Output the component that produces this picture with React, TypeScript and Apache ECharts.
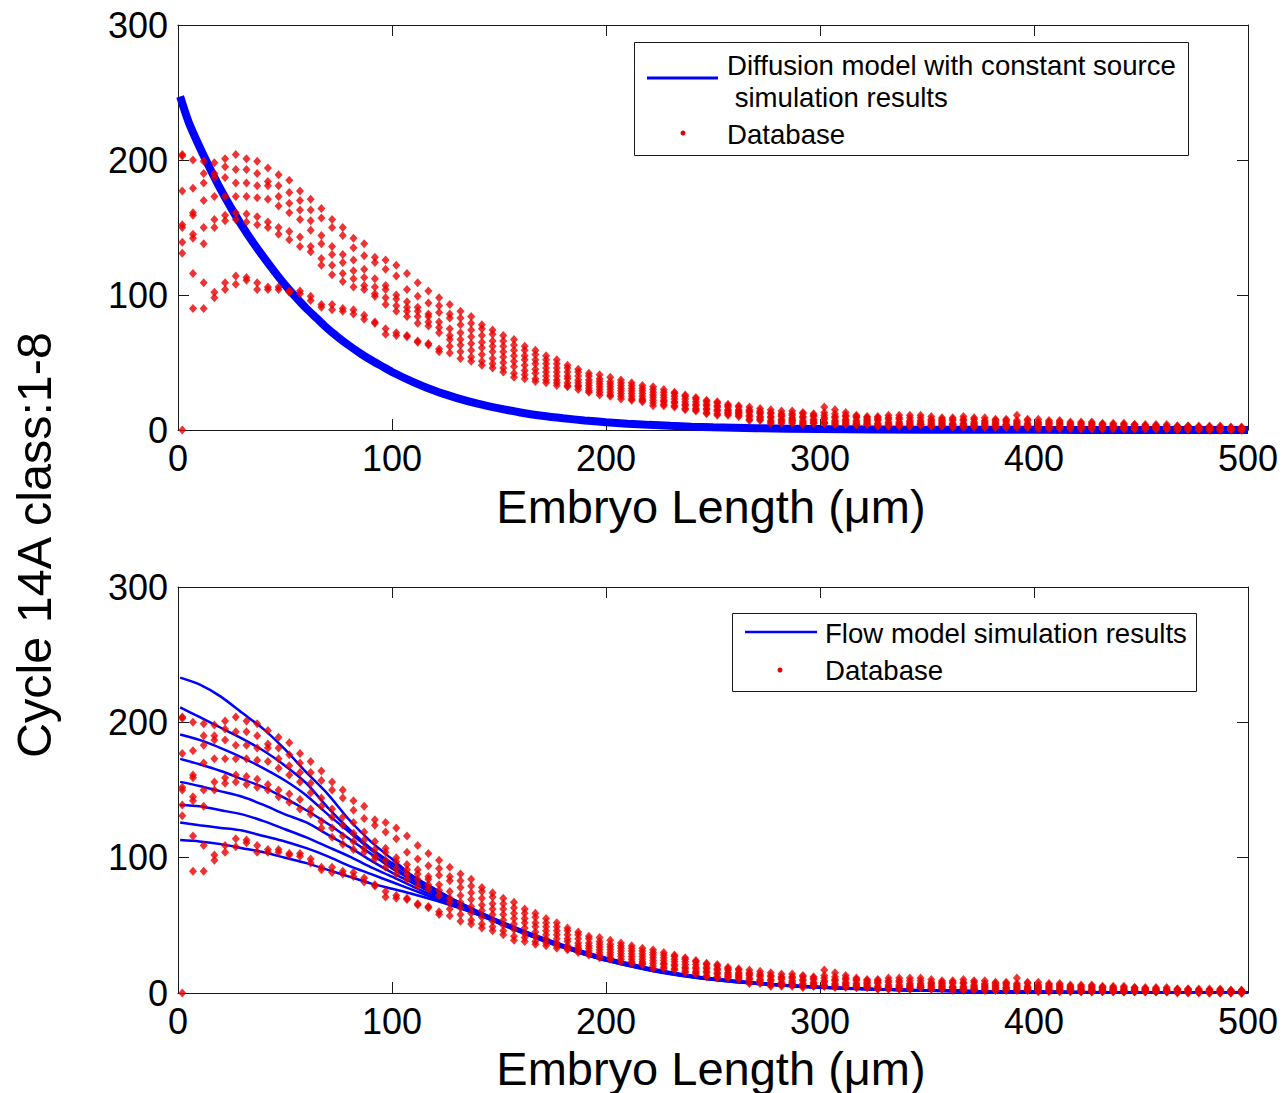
import React, { useEffect, useRef } from "react";
import * as echarts from "echarts";

// Sampling positions of the database profiles (µm)
const xs = [2,7,12,17,22,27,32,37,42,47,52,57,62,67,72,77,82,87,92,97,102,107,112,117,122,127,132,137,142,147,152,157,162,167,172,177,182,187,192,197,202,207,212,217,222,227,232,237,242,247,252,257,262,267,272,277,282,287,292,297,302,307,312,317,322,327,332,337,342,347,352,357,362,367,372,377,382,387,392,397,402,407,412,417,422,427,432,437,442,447,452,457,462,467,472,477,482,487,492,497];

// Database values, 8 classes (read top-to-bottom at each position)
const class1 = [204,200,199,198,201,204,201,199,194,189,185,177,171,164,156,150,142,138,128,126,122,116,109,103,98,93,88,84,78,74,70,67,62,59,55,52,48,45,42,41,39,37,35,33,32,30,28,26,24,22,21,19,18,17,16,15,14,14,13,12,17,15,13,11,10,10,11,11,11,11,10,9,9,10,9,9,8,8,11,8,8,7,7,6,6,6,5,5,5,4,4,4,4,3,3,3,3,3,2,2];
const class2 = [203,179,190,190,195,193,193,190,184,181,176,170,163,157,150,144,135,129,124,119,114,104,99,94,92,86,83,79,75,71,66,63,59,56,52,49,46,43,40,38,36,35,33,31,30,28,27,25,23,21,20,18,17,15,14,13,12,12,12,11,13,12,11,10,9,9,9,9,9,9,8,8,8,8,8,7,7,7,7,7,6,6,6,5,5,5,4,4,4,4,3,3,3,3,3,2,2,2,2,2];
const class3 = [177,161,183,187,187,183,183,181,181,173,168,163,155,144,136,130,126,119,112,107,100,95,91,86,87,83,78,74,70,66,62,59,55,52,49,46,43,40,37,36,34,33,31,29,28,26,25,23,21,19,18,17,15,14,13,12,11,11,10,10,11,10,10,9,8,8,8,8,7,7,7,7,7,7,6,6,6,6,6,5,5,5,5,4,4,4,4,3,3,3,3,3,2,2,2,2,2,2,1,1];
const class4 = [152,159,170,173,173,173,173,172,171,166,161,156,148,138,130,124,118,113,106,104,97,91,88,84,80,75,72,69,65,62,58,55,52,49,46,43,40,37,35,34,32,31,29,27,26,24,23,21,19,18,17,15,14,13,12,10,10,9,9,8,9,9,8,7,7,7,6,6,6,6,6,6,5,5,5,5,5,4,5,4,4,4,4,3,3,3,3,3,2,2,2,2,2,2,2,1,1,1,1,1];
const class5 = [150,145,150,156,159,161,160,158,154,150,147,143,136,127,122,116,112,107,101,98,92,88,84,80,76,70,67,64,61,58,54,51,48,45,43,40,38,35,33,32,30,29,27,25,24,22,21,19,18,16,15,14,13,11,10,9,8,8,7,7,8,7,7,6,6,5,5,5,5,5,5,5,4,4,4,4,4,4,4,3,3,3,3,3,2,2,2,2,2,2,2,2,1,1,1,1,1,1,1,1];
const class6 = [139,142,138,150,155,156,154,152,150,145,141,136,132,122,115,110,106,104,99,93,88,84,79,77,72,67,63,59,56,53,50,47,44,42,40,37,35,33,31,30,28,27,25,23,22,21,20,18,16,15,14,13,12,10,9,7,7,7,6,6,6,6,6,5,5,4,4,4,4,4,4,4,4,3,3,3,3,3,3,3,2,2,2,2,2,2,2,2,1,1,1,1,1,1,1,1,1,1,1,0];
const class7 = [131,116,109,102,109,114,113,109,106,106,103,103,99,93,93,90,89,85,80,75,72,70,66,64,60,62,58,54,51,49,46,42,41,38,37,35,33,32,29,28,26,25,23,22,20,19,18,16,15,13,12,12,11,8,8,6,6,6,5,5,5,5,5,4,4,3,3,3,3,4,3,3,3,3,3,2,2,2,2,2,2,2,2,2,1,1,1,1,1,1,1,1,1,1,1,1,0,0,0,0];
const class8 = [0,90,90,98,104,108,111,104,104,104,102,101,96,91,89,88,86,82,79,71,70,69,65,63,58,57,53,51,48,46,43,39,38,36,35,33,32,30,28,26,25,23,22,21,18,18,17,15,14,12,11,11,10,7,7,5,5,5,4,5,5,4,4,4,4,3,3,3,3,4,3,3,2,2,2,2,2,2,2,2,1,1,1,1,1,1,1,1,1,1,1,1,1,0,0,0,0,0,0,0];
const databaseClasses = [class1, class2, class3, class4, class5, class6, class7, class8];

// Diffusion model with constant source (top panel)
const diffX = [1,5,10,15,20,25,30,35,40,45,50,55,60,65,70,75,80,85,90,95,100,110,120,130,140,150,160,170,180,190,200,210,220,230,240,250,270,300,350,400,450,500];
const diffY = [247,228,210,193.5,178,164,151,139,128,117.5,107.5,98.5,90,82.5,75,68.5,62.5,57,52,47.5,43,35.5,29,23.8,19.5,16,13,10.6,8.7,7.1,5.8,4.7,3.8,3.1,2.5,2,1.3,0.7,0.25,0.1,0.05,0];

// Flow model simulation results (bottom panel)
const flowX = [1,10,20,30,40,50,60,70,80,90,100,110,120,130,140,150,160,170,180,190,200,220,240,260,280,300,325,350,375,400,450,500];
const flow1 = [233,228,219,207,195,180,163,147,128,112,99,86,77,68,60,53,46.5,40.5,35,30,25.5,18,12.5,8.8,6.2,4.4,2.9,1.9,1.3,0.9,0.4,0.15];
const flow2 = [211,204,196,188,179,168,155,137,121,107,96,86,76.5,68,60.5,53.5,47,41,35.5,30.5,26,18.5,12.8,9,6.3,4.5,3,2,1.35,0.95,0.4,0.15];
const flow3 = [191,187,181,174,166,157,146,132,119,106,94,84,75,67,60,53,46.5,40.5,35,30,25.5,18,12.5,8.8,6.2,4.4,2.9,1.9,1.3,0.9,0.4,0.15];
const flow4 = [173,169,164,158,152,144,135,125,114,103,92,83,74,66.5,59.5,53,46.5,40.5,35,30,25.5,18,12.5,8.7,6.1,4.3,2.9,1.9,1.3,0.9,0.4,0.15];
const flow5 = [156,153,149,145,139,132,126,117,108,98,89,81,73,66,59,52.5,46,40,34.5,29.5,25,17.5,12.2,8.5,6,4.2,2.8,1.8,1.2,0.85,0.35,0.1];
const flow6 = [139,138,135,132,127,121,115,108,101,93,86,78.5,71.5,65,58.5,52,45.5,39.5,34,29,24.5,17.2,12,8.4,5.9,4.1,2.7,1.8,1.2,0.8,0.35,0.1];
const flow7 = [126,124,122,120,116,112,107,101,94,88,82,76,70,64,58,51.5,45,39,33.5,28.5,24,17,11.8,8.2,5.8,4,2.7,1.7,1.2,0.8,0.3,0.1];
const flow8 = [113,112,110,107,104,100,96,91,86,81,77,73,68.5,63.5,58,51.5,45,39,33.5,28.5,24,16.8,11.6,8.1,5.7,3.9,2.6,1.7,1.1,0.8,0.3,0.1];
const flowCurves = [flow1, flow2, flow3, flow4, flow5, flow6, flow7, flow8];

const xTicks = [0, 100, 200, 300, 400, 500];
const yTicks = [0, 100, 200, 300];

const FONT = "'Liberation Sans', Arial, Helvetica, sans-serif";
const AXIS_COLOR = "#1a1a1a";
const RED = "#e80000";
const BLUE = "#0000ff";

const zip = (x: number[], y: number[]) => x.map((v, i) => [v, y[i]]);

function App() {
  const ref = useRef<HTMLDivElement>(null);

  useEffect(() => {
    document.body.style.margin = "0";
    const chart = echarts.init(ref.current!, null, { renderer: "svg" });

    const axisCommon = {
      type: "value",
      interval: 100,
      axisLine: { show: true, onZero: false, lineStyle: { color: AXIS_COLOR, width: 1 } },
      axisTick: { show: true, inside: true, length: 11, lineStyle: { color: AXIS_COLOR, width: 1 } },
      splitLine: { show: false },
    };
    const label = (show: boolean) => ({
      show,
      fontSize: 36,
      fontFamily: FONT,
      color: "#000",
      margin: 10,
    });
    const makeX = (grid: number, pos: "bottom" | "top", labels: boolean) => ({
      ...axisCommon,
      gridIndex: grid,
      position: pos,
      min: xTicks[0],
      max: xTicks[xTicks.length - 1],
      axisLabel: label(labels),
    });
    const makeY = (grid: number, pos: "left" | "right", labels: boolean) => ({
      ...axisCommon,
      gridIndex: grid,
      position: pos,
      min: yTicks[0],
      max: yTicks[yTicks.length - 1],
      axisLabel: label(labels),
    });

    const dbPoints: number[][] = [];
    databaseClasses.forEach((cls) => cls.forEach((v, i) => dbPoints.push([xs[i], v])));

    const series: any[] = [];
    series.push({
      type: "line",
      name: "Diffusion model with constant source simulation results",
      xAxisIndex: 0,
      yAxisIndex: 0,
      data: zip(diffX, diffY),
      showSymbol: false,
      smooth: 0.3,
      lineStyle: { color: BLUE, width: 8 },
      z: 2,
    });
    flowCurves.forEach((c, i) =>
      series.push({
        type: "line",
        name: "Flow model simulation results " + (i + 1),
        xAxisIndex: 2,
        yAxisIndex: 2,
        data: zip(flowX, c),
        showSymbol: false,
        smooth: 0.25,
        lineStyle: { color: BLUE, width: 2.5 },
        z: 2,
      })
    );
    [0, 2].forEach((ax) =>
      series.push({
        type: "scatter",
        name: "Database",
        xAxisIndex: ax,
        yAxisIndex: ax,
        data: dbPoints,
        symbol: "diamond",
        symbolSize: [8, 9],
        itemStyle: { color: RED },
        z: 3,
      })
    );

    const txt = (x: number, y: number, text: string, size: number, align = "left") => ({
      type: "text",
      x,
      y,
      style: { text, font: `${size}px ${FONT}`, fill: "#000", textAlign: align, textVerticalAlign: "middle" },
      z: 11,
    });

    const graphic: any[] = [
      // Top legend
      { type: "rect", shape: { x: 634.5, y: 42.5, width: 554, height: 113 }, style: { fill: "#fff", stroke: AXIS_COLOR, lineWidth: 1 }, z: 10 },
      { type: "line", shape: { x1: 647, y1: 78, x2: 718, y2: 78 }, style: { stroke: BLUE, lineWidth: 3 }, z: 11 },
      txt(727, 65, "Diffusion model with constant source", 27.6),
      txt(727, 97, " simulation results", 27.6),
      { type: "circle", shape: { cx: 683, cy: 133, r: 2.5 }, style: { fill: RED }, z: 11 },
      txt(727, 134, "Database", 27.6),
      // Bottom legend
      { type: "rect", shape: { x: 732.5, y: 613.5, width: 464, height: 78 }, style: { fill: "#fff", stroke: AXIS_COLOR, lineWidth: 1 }, z: 10 },
      { type: "line", shape: { x1: 745, y1: 632, x2: 817, y2: 632 }, style: { stroke: BLUE, lineWidth: 2.5 }, z: 11 },
      txt(825, 633, "Flow model simulation results", 27.6),
      { type: "circle", shape: { cx: 780, cy: 670, r: 2.5 }, style: { fill: RED }, z: 11 },
      txt(825, 670, "Database", 27.6),
      // Axis titles
      txt(711, 506, "Embryo Length (μm)", 47, "center"),
      txt(711, 1068, "Embryo Length (μm)", 47, "center"),
      { ...txt(34, 545, "Cycle 14A class:1-8", 48.5, "center"), rotation: Math.PI / 2 },
    ];

    chart.setOption({
      animation: false,
      backgroundColor: "#fff",
      grid: [
        { left: 178, top: 25, width: 1070, height: 405 },
        { left: 178, top: 587, width: 1070, height: 406 },
      ],
      xAxis: [makeX(0, "bottom", true), makeX(0, "top", false), makeX(1, "bottom", true), makeX(1, "top", false)],
      yAxis: [makeY(0, "left", true), makeY(0, "right", false), makeY(1, "left", true), makeY(1, "right", false)],
      series,
      graphic,
    });

    return () => chart.dispose();
  }, []);

  return <div ref={ref} style={{ width: 1283, height: 1093 }} />;
}

export default App;
